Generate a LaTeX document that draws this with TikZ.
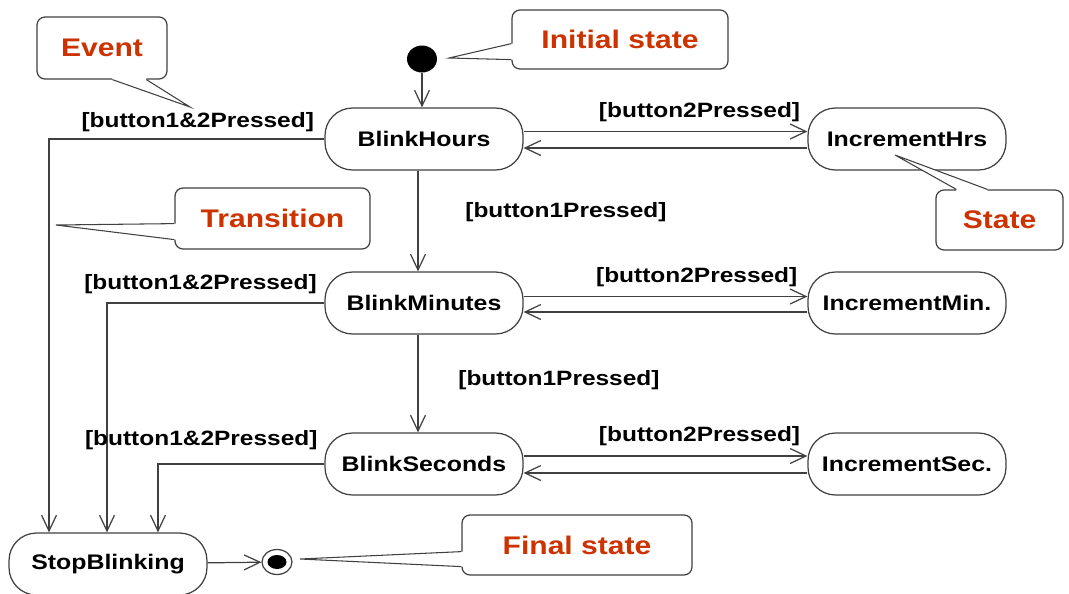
\documentclass[tikz,border=0pt]{standalone}
\usepackage{fontspec}
\setmainfont{Liberation Sans}[FakeStretch=1.18]
\usetikzlibrary{arrows.meta,shapes.geometric,positioning,calc}
\definecolor{notered}{HTML}{CC3300}
\definecolor{linegray}{HTML}{404040}

\begin{document}
\begin{tikzpicture}[x=0.02cm, y=-0.02cm,
    state/.style={draw=linegray, line width=0.7pt, rounded corners=0.55cm, minimum width=3.96cm, minimum height=1.24cm, font=\fontsize{12}{14}\selectfont\bfseries, fill=white},
    note/.style={draw=linegray, line width=0.7pt, rounded corners=0.16cm, fill=white, inner sep=0pt, font=\fontsize{14.5}{17}\selectfont\bfseries, text=notered},
    arr/.style={-{Straight Barb[length=9pt, width=8.5pt]}, draw=linegray, line width=0.7pt},
    lbl/.style={font=\fontsize{11.8}{14}\selectfont\bfseries, inner sep=1pt},
    pin/.style={draw=linegray, line width=0.6pt}
]
\useasboundingbox (0,0) rectangle (1069,593);

% states
\node[ellipse, fill=black, minimum width=0.6cm, minimum height=0.54cm, inner sep=0pt] (init) at (422,59) {};
\node[state] (hours) at (424,139) {BlinkHours};
\node[state] (minutes) at (424,303) {BlinkMinutes};
\node[state] (seconds) at (424,464) {BlinkSeconds};
\node[state] (inchrs) at (907,139) {IncrementHrs};
\node[state] (incmin) at (907,303) {IncrementMin.};
\node[state] (incsec) at (907,464) {IncrementSec.};
\node[state] (stop) at (108,564) {StopBlinking};
\node[ellipse, draw=linegray, line width=0.7pt, minimum width=0.6cm, minimum height=0.5cm, inner sep=0pt] (final) at (277,562) {};
\node[ellipse, fill=black, minimum width=0.38cm, minimum height=0.28cm, inner sep=0pt] (finaldot) at (final) {};

% transitions
\draw[arr] (init) -- (init |- hours.north);
\draw[arr] ([xshift=-0.12cm]hours.south) -- node[lbl, pos=0.41, right=0.9cm] {[button1Pressed]} ([xshift=-0.12cm]minutes.north);
\draw[arr] ([xshift=-0.12cm]minutes.south) -- node[lbl, pos=0.47, right=0.76cm] {[button1Pressed]} ([xshift=-0.12cm]seconds.north);

\draw[arr] ([yshift=0.15cm]hours.east) -- node[lbl, pos=0.62, above=0.14cm] {[button2Pressed]} ([yshift=0.15cm]inchrs.west);
\draw[arr] ([yshift=-0.18cm]inchrs.west) -- ([yshift=-0.18cm]hours.east);
\draw[arr] ([yshift=0.13cm]minutes.east) -- node[lbl, pos=0.61, above=0.14cm] {[button2Pressed]} ([yshift=0.13cm]incmin.west);
\draw[arr] ([yshift=-0.18cm]incmin.west) -- ([yshift=-0.18cm]minutes.east);
\draw[arr] ([yshift=0.16cm]seconds.east) -- node[lbl, pos=0.62, above=0.16cm] {[button2Pressed]} ([yshift=0.16cm]incsec.west);
\draw[arr] ([yshift=-0.18cm]incsec.west) -- ([yshift=-0.18cm]seconds.east);

\draw[arr] (hours.west) -| node[lbl, pos=0.23, above=0.1cm] {[button1\&2Pressed]} ([xshift=-1.18cm]stop.north);
\draw[arr] (minutes.west) -| node[lbl, pos=0.285, above=0.14cm] {[button1\&2Pressed]} ([xshift=-0.02cm]stop.north);
\draw[arr] (seconds.west) -| node[lbl, pos=0.37, above=0.24cm] {[button1\&2Pressed]} ([xshift=1cm]stop.north);
\draw[arr] (stop) -- (final);

% callouts
\node[note, minimum width=2.6cm, minimum height=1.24cm] (event) at (102,48) {Event};
\coordinate (eventtip) at (190,107);
\fill[white] ($(event.south west)+(76,-3)$) -- ($(event.south west)+(76,0)$) -- (eventtip) -- ($(event.south west)+(110,0)$) -- ($(event.south west)+(110,-3)$) -- cycle;
\draw[pin] ($(event.south west)+(76,0)$) -- (eventtip) -- ($(event.south west)+(110,0)$);

\node[note, minimum width=4.32cm, minimum height=1.18cm] (initnote) at (620,39.5) {Initial state};
\coordinate (inittip) at (449,58);
\fill[white] ($(initnote.south west)+(3,-26)$) -- ($(initnote.south west)+(0,-26)$) -- (inittip) -- ($(initnote.south west)+(0,-10)$) -- ($(initnote.south west)+(3,-10)$) -- cycle;
\draw[pin] ($(initnote.south west)+(0,-26)$) -- (inittip) -- ($(initnote.south west)+(0,-10)$);

\node[note, minimum width=3.9cm, minimum height=1.22cm] (trans) at (272.5,218.5) {Transition};
\coordinate (transtip) at (56,225);
\fill[white] ($(trans.south west)+(3,-26)$) -- ($(trans.south west)+(0,-26)$) -- (transtip) -- ($(trans.south west)+(0,-10)$) -- ($(trans.south west)+(3,-10)$) -- cycle;
\draw[pin] ($(trans.south west)+(0,-26)$) -- (transtip) -- ($(trans.south west)+(0,-10)$);

\node[note, minimum width=2.54cm, minimum height=1.2cm] (statenote) at (999.5,220) {State};
\coordinate (statetip) at (895,155);
\fill[white] ($(statenote.north west)+(21,3)$) -- ($(statenote.north west)+(21,0)$) -- (statetip) -- ($(statenote.north west)+(52,0)$) -- ($(statenote.north west)+(52,3)$) -- cycle;
\draw[pin] ($(statenote.north west)+(21,0)$) -- (statetip) -- ($(statenote.north west)+(52,0)$);

\node[note, minimum width=4.6cm, minimum height=1.2cm] (finalnote) at (577,545) {Final state};
\coordinate (finaltip) at (300,559);
\fill[white] ($(finalnote.south west)+(3,-24)$) -- ($(finalnote.south west)+(0,-24)$) -- (finaltip) -- ($(finalnote.south west)+(0,-9)$) -- ($(finalnote.south west)+(3,-9)$) -- cycle;
\draw[pin] ($(finalnote.south west)+(0,-24)$) -- (finaltip) -- ($(finalnote.south west)+(0,-9)$);
\end{tikzpicture}
\end{document}
